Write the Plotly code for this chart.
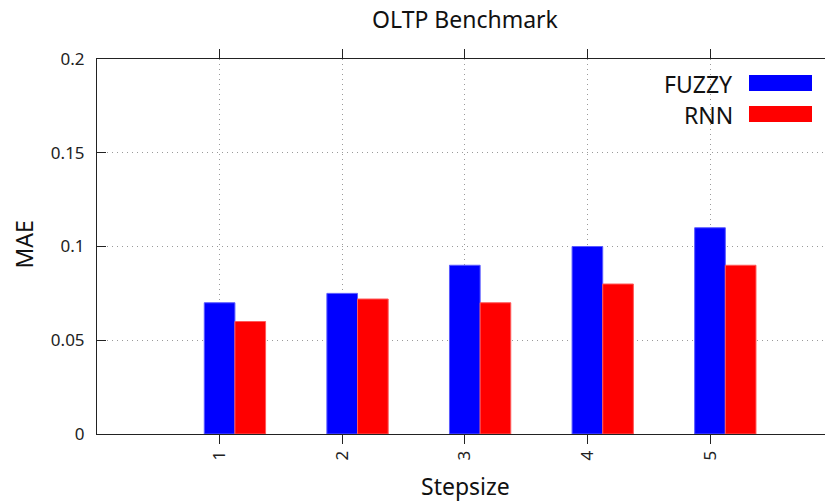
import plotly.graph_objects as go

categories = [1, 2, 3, 4, 5]
tick_labels = ["1", "2", "3", "4", "5"]
fuzzy = [0.07, 0.075, 0.09, 0.10, 0.11]
rnn = [0.06, 0.072, 0.07, 0.08, 0.09]
series_names = ["FUZZY", "RNN"]
series_colors = ["#0000ff", "#ff0000"]
edge_colors = ["#5a5aff", "#ff5a5a"]
y_ticks = [0, 0.05, 0.1, 0.15, 0.2]
y_tick_labels = ["0", "0.05", "0.1", "0.15", "0.2"]

FONT = "Noto Sans"
W, H = 825, 502
ML, MR, MT, MB = 97, 0, 59, 68

fig = go.Figure()
for name, vals, col, ecol, off in zip(series_names, [fuzzy, rnn], series_colors, edge_colors, [-0.125, 0.125]):
    fig.add_trace(go.Bar(
        x=categories, y=vals, name=name, width=0.25, offset=off,
        marker=dict(color=col, line=dict(color=ecol, width=1)),
        showlegend=False,
    ))

pw = W - ML - MR
ph = H - MT - MB
def px_x(p):
    return (p - ML) / pw
def px_y(p):
    return (H - MB - p) / ph

# manual gnuplot-style key: label text right-aligned, swatch to the right
key_rows = [83.5, 114.5]
for name, col, yc in zip(series_names, series_colors, key_rows):
    fig.add_annotation(
        x=px_x(735), y=px_y(yc), xref="paper", yref="paper",
        text=name, showarrow=False, xanchor="right", yanchor="middle",
        font=dict(family=FONT, size=23, color="#111"),
    )
    fig.add_shape(
        type="rect", xref="paper", yref="paper",
        x0=px_x(749), x1=px_x(812), y0=px_y(yc + 7.5), y1=px_y(yc - 8.5),
        fillcolor=col, line=dict(width=0),
    )

# axis titles
fig.add_annotation(
    x=px_x(23.5), y=px_y(245), xref="paper", yref="paper",
    text="MAE", textangle=-90, showarrow=False,
    xanchor="center", yanchor="middle",
    font=dict(family=FONT, size=23, color="#111"),
)
fig.add_annotation(
    x=px_x(465), y=px_y(486), xref="paper", yref="paper",
    text="Stepsize", showarrow=False,
    xanchor="center", yanchor="middle",
    font=dict(family=FONT, size=23, color="#111"),
)

GRID_DASH = "1px,4px"
fig.update_layout(
    width=W, height=H,
    margin=dict(l=ML, r=MR, t=MT, b=MB, pad=0),
    paper_bgcolor="white", plot_bgcolor="white",
    barmode="overlay",
    title=dict(
        text="OLTP Benchmark", x=465 / W, xref="container", xanchor="center",
        y=1 - 19.5 / H, yref="container", yanchor="middle",
        font=dict(family=FONT, size=23, color="#111"),
    ),
    font=dict(family=FONT, color="#111"),
    xaxis=dict(
        range=[0, (W - ML) / 122.6], tickvals=categories, ticktext=tick_labels,
        tickangle=-90, ticks="outside", ticklen=9, tickwidth=1, tickcolor="#222",
        showline=True, linecolor="#222", linewidth=1, mirror="ticks",
        showgrid=True, gridcolor="#9a9a9a", griddash=GRID_DASH, gridwidth=1,
        zeroline=False, tickfont=dict(family=FONT, size=17, color="#222"),
        ticklabelstandoff=0,
    ),
    yaxis=dict(
        range=[0, 0.2], tickvals=y_ticks, ticktext=y_tick_labels,
        ticks="inside", ticklen=9, tickwidth=1, tickcolor="#222",
        showline=True, linecolor="#222", linewidth=1, mirror=False,
        showgrid=True, gridcolor="#9a9a9a", griddash=GRID_DASH, gridwidth=1,
        zeroline=False, tickfont=dict(family=FONT, size=17, color="#222"),
        ticklabelstandoff=8,
    ),
)

fig.write_html("out.html")
